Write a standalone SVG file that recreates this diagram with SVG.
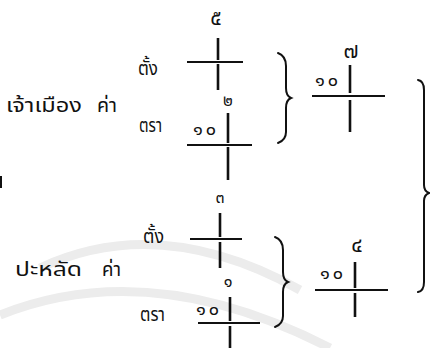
<svg xmlns="http://www.w3.org/2000/svg" width="430" height="348" viewBox="0 0 430 348">
<style>
.t{font-family:"Noto Sans Thai","Loma","Garuda","Norasi","DejaVu Sans","Liberation Sans",sans-serif;fill:#111;font-size:20px}
.d{font-family:"Noto Sans Thai","Loma","Garuda","Norasi","DejaVu Sans","Liberation Sans",sans-serif;fill:#111;font-size:21px;text-anchor:middle}
.n{font-size:18px;letter-spacing:3px}
.s{font-size:16px}
.v{stroke:#111;stroke-width:2.6;fill:none}
.h{stroke:#111;stroke-width:2;fill:none}
.b{stroke:#111;stroke-width:2;fill:none;stroke-linecap:round}
.w{stroke:#ececec;fill:none;stroke-width:9}
</style>
<rect width="430" height="348" fill="#fff"/>
<g id="watermark">
<path class="w" d="M40 268 Q160 212 300 290"/>
<path class="w" d="M0 315 Q150 255 330 348"/>
</g>
<line class="h" x1="1" y1="176" x2="1" y2="188"/>
<g id="labels">
<text class="t" x="6" y="112" textLength="76" lengthAdjust="spacingAndGlyphs">เจ้าเมือง</text>
<text class="t" x="97" y="112" textLength="20" lengthAdjust="spacingAndGlyphs">ค่า</text>
<text class="t" x="138" y="75" textLength="20" lengthAdjust="spacingAndGlyphs">ตั้ง</text>
<text class="t" x="139" y="132" textLength="23" lengthAdjust="spacingAndGlyphs">ตรา</text>
<text class="t" x="15" y="276" textLength="67" lengthAdjust="spacingAndGlyphs">ปะหลัด</text>
<text class="t" x="102" y="276" textLength="19" lengthAdjust="spacingAndGlyphs">ค่า</text>
<text class="t" x="143" y="243" textLength="21" lengthAdjust="spacingAndGlyphs">ตั้ง</text>
<text class="t" x="140" y="321" textLength="25" lengthAdjust="spacingAndGlyphs">ตรา</text>
</g>
<g id="cross1">
<text class="d" x="216" y="25">๕</text>
<line class="v" x1="218" y1="38" x2="218" y2="60"/>
<line class="v" x1="218" y1="64" x2="218" y2="90"/>
<line class="h" x1="187" y1="62" x2="243" y2="62"/>
</g>
<g id="cross2">
<text class="d s" x="228" y="106">๒</text>
<text class="d n" x="206" y="135">๑๐</text>
<line class="v" x1="228" y1="113" x2="228" y2="143"/>
<line class="v" x1="228" y1="147" x2="228" y2="180"/>
<line class="h" x1="187" y1="145" x2="252" y2="145"/>
</g>
<g id="result1">
<text class="d" x="351" y="58">๗</text>
<text class="d n" x="328" y="86">๑๐</text>
<line class="v" x1="350" y1="65" x2="350" y2="93"/>
<line class="v" x1="350" y1="100" x2="350" y2="132"/>
<line class="h" x1="312" y1="96" x2="385" y2="96"/>
</g>
<g id="cross3">
<text class="d s" x="220" y="203">๓</text>
<line class="v" x1="220" y1="213" x2="220" y2="237"/>
<line class="v" x1="220" y1="242" x2="220" y2="268"/>
<line class="h" x1="190" y1="239" x2="242" y2="239"/>
</g>
<g id="cross4">
<text class="d s" x="228" y="287">๑</text>
<text class="d n" x="209" y="315">๑๐</text>
<line class="v" x1="230" y1="297" x2="230" y2="321"/>
<line class="v" x1="230" y1="326" x2="230" y2="348"/>
<line class="h" x1="198" y1="323" x2="260" y2="323"/>
</g>
<g id="result2">
<text class="d" x="357" y="252">๔</text>
<text class="d n" x="333" y="279">๑๐</text>
<line class="v" x1="355" y1="262" x2="355" y2="288"/>
<line class="v" x1="355" y1="293" x2="355" y2="317"/>
<line class="h" x1="315" y1="290" x2="388" y2="290"/>
</g>
<g id="connectors">
<path class="b" d="M278 53 Q286 56 286 66 L286 88 Q286 96 291 98 Q286 100 286 108 L286 132 Q286 140 278 143"/>
<path class="b" d="M275 237 Q283 240 283 250 L283 272 Q283 280 288 282 Q283 284 283 292 L283 316 Q283 324 275 327"/>
<path class="b" d="M418 80 Q424 81 424 90 L424 185 Q424 191 429 193 Q424 195 424 201 L424 282 Q424 291 418 292"/>
</g>
</svg>
